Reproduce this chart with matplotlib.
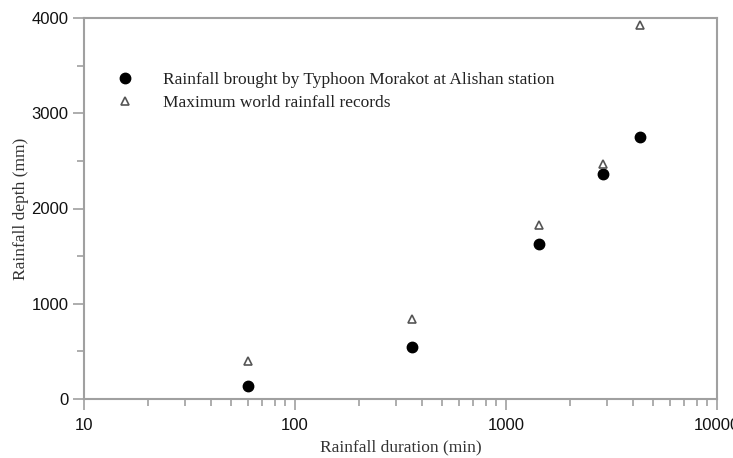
import matplotlib
matplotlib.use('Agg')
import matplotlib.pyplot as plt
from matplotlib.ticker import MultipleLocator, LogLocator, NullFormatter, FixedLocator, FixedFormatter

# --- Data (duration in min, depth in mm) ---
durations = [60, 360, 1440, 2880, 4320]
morakot_depth = [136, 546, 1623, 2361, 2748]
world_record_depth = [401, 840, 1825, 2467, 3929]

x_ticks = [10, 100, 1000, 10000]
x_tick_labels = ['10', '100', '1000', '10000']
y_ticks = [0, 1000, 2000, 3000, 4000]

serif = ['Liberation Serif', 'DejaVu Serif']
sans = ['Liberation Sans', 'DejaVu Sans']
frame_col = '#a0a0a0'

fig = plt.figure(figsize=(7.33, 4.58), dpi=100)
ax = fig.add_axes([84 / 733, 1 - 399 / 458, (717 - 84) / 733, (399 - 18) / 458])

ax.plot(durations, morakot_depth, linestyle='none', marker='o', markersize=7.5,
        color='black', label='Rainfall brought by Typhoon Morakot at Alishan station')
ax.plot(durations, world_record_depth, linestyle='none', marker='^', markersize=6,
        markerfacecolor='white', markeredgecolor='#555555', markeredgewidth=1.2,
        label='Maximum world rainfall records')

ax.set_xscale('log')
ax.set_xlim(10, 10000)
ax.set_ylim(0, 4000)

ax.xaxis.set_major_locator(FixedLocator(x_ticks))
ax.xaxis.set_major_formatter(FixedFormatter(x_tick_labels))
ax.xaxis.set_minor_locator(LogLocator(base=10, subs=range(2, 10)))
ax.xaxis.set_minor_formatter(NullFormatter())
ax.yaxis.set_major_locator(FixedLocator(y_ticks))
ax.yaxis.set_minor_locator(MultipleLocator(500))

for s in ax.spines.values():
    s.set_color(frame_col)
    s.set_linewidth(1.5)

ax.tick_params(which='both', direction='out', color=frame_col, width=1.2,
               top=False, right=False)
ax.tick_params(which='major', length=8, labelsize=12, labelcolor='#111111')
ax.tick_params(axis='x', which='major', pad=6)
ax.tick_params(axis='y', which='major', pad=3)
ax.tick_params(which='minor', length=5)
for lab in ax.get_xticklabels() + ax.get_yticklabels():
    lab.set_family(sans)

ax.set_xlabel('Rainfall duration (min)', family=serif, fontsize=12.5, color='#333333', labelpad=4)
ax.set_ylabel('Rainfall depth (mm)', family=serif, fontsize=12.5, color='#333333', labelpad=2)

leg = ax.legend(loc='upper left', bbox_to_anchor=(0.051, 0.859), frameon=False,
                prop={'family': serif, 'size': 12.5}, handlelength=1.0,
                handletextpad=1.68, labelspacing=0.42, borderaxespad=0, borderpad=0)
for t in leg.get_texts():
    t.set_color('#222222')

fig.savefig('out.png', dpi=100)
